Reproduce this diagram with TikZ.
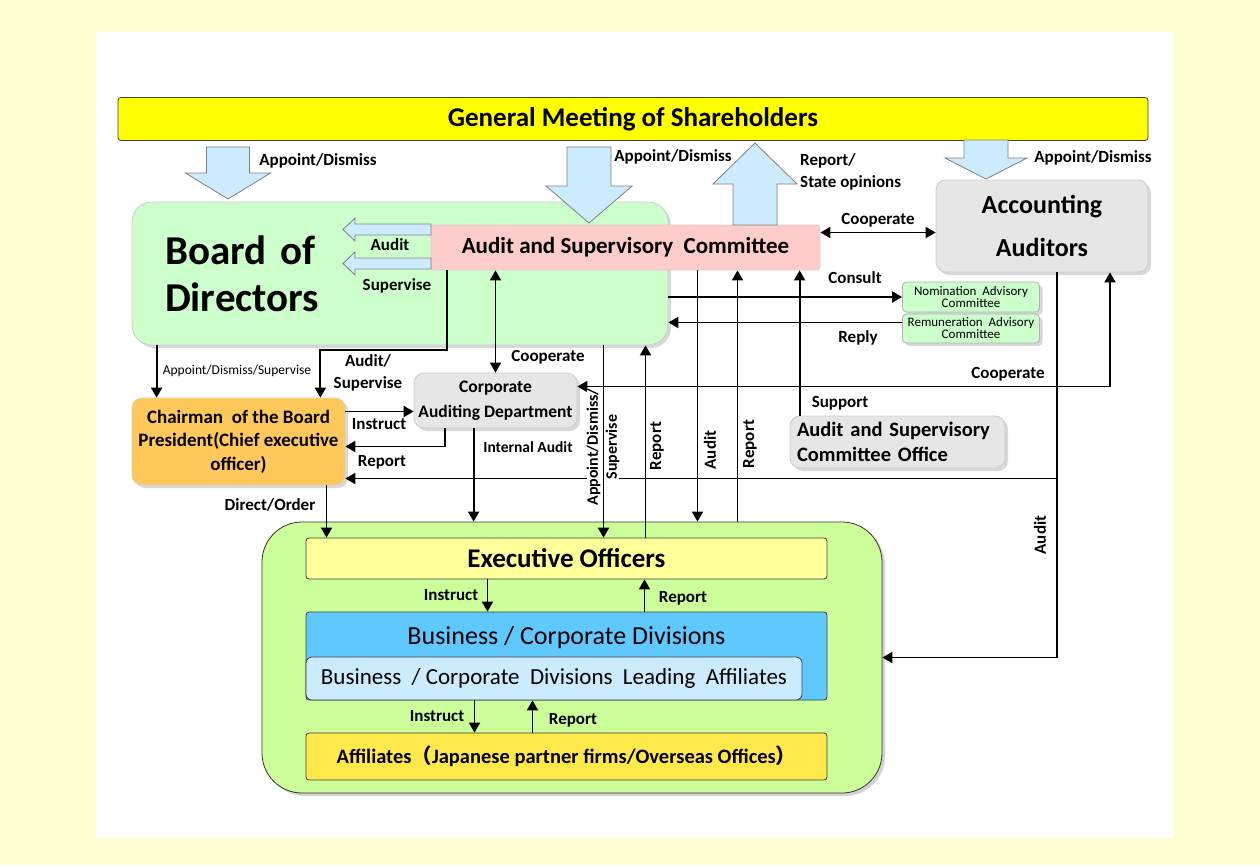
\documentclass[tikz,border=0pt]{standalone}
\usepackage{fontspec}
\setmainfont{Carlito}
\newfontfamily\cjk{Noto Sans CJK JP}
\usepackage{tikz}
\usepackage{xcolor}
\usetikzlibrary{arrows.meta,shadows}
\definecolor{pageyellow}{HTML}{FFFDD2}
\definecolor{gmsyellow}{HTML}{FFFF00}
\definecolor{arrowblue}{HTML}{CCEBFF}
\definecolor{boardgreen}{HTML}{CCFFCC}
\definecolor{auditpink}{HTML}{FFCCCC}
\definecolor{softgray}{HTML}{E6E6E6}
\definecolor{chairorange}{HTML}{FFC85A}
\definecolor{groupgreen}{HTML}{CCFF99}
\definecolor{officeryellow}{HTML}{FFFF99}
\definecolor{divblue}{HTML}{5FC8FF}
\definecolor{leadblue}{HTML}{CCEBFF}
\definecolor{affyellow}{HTML}{FFE94A}
\tikzset{
box/.style={
  draw=black!75,
  line width=0.8pt,
  rounded corners=3pt,
  inner sep=0pt,
  align=center,
  font=\bfseries
},
softbox/.style={
  box,
  draw=black!20,
  rounded corners=10pt,
  drop shadow={opacity=0.3,shadow xshift=3pt,shadow yshift=-3pt}
},
lbl/.style={inner sep=1pt,align=center,font=\bfseries\fontsize{17}{22}\selectfont},
vlbl/.style={lbl,rotate=90},
blockarrow/.style={draw=black!50,line width=0.8pt,fill=arrowblue},
conn/.style={line width=1.9pt,>={Triangle[length=10pt,width=11pt]}},
}
% x, start y, tip y, shaft half, head half, head length (signed)
\newcommand{\blockarrow}[6]{%
  \draw[blockarrow] ({#1-#4},#2) -- ({#1-#4},{#3-(#6)}) -- ({#1-#5},{#3-(#6)})
    -- (#1,#3) -- ({#1+#5},{#3-(#6)}) -- ({#1+#4},{#3-(#6)}) -- ({#1+#4},#2) -- cycle;}
% y, start x, tip x
\newcommand{\sidearrow}[3]{%
  \draw[blockarrow] (#2,{#1-5.5}) -- (355,{#1-5.5}) -- (355,{#1-11.5}) -- (#3,#1)
    -- (355,{#1+11.5}) -- (355,{#1+5.5}) -- (#2,{#1+5.5}) -- cycle;}

\begin{document}
\begin{tikzpicture}[x=1pt,y=-1pt]
% the page
\fill[pageyellow] (0,0) rectangle (1260,865);
\fill[white] (96,32) rectangle (1173,838);
\useasboundingbox (0,0) rectangle (1260,865);

% the boxes
\node (gms) [box,fill=gmsyellow,minimum width=1030pt,minimum height=43pt,
  font=\bfseries\fontsize{27}{30}\selectfont] at (633,119) {General Meeting of Shareholders};
\node (bod) [softbox,fill=boardgreen,rounded corners=20pt,minimum width=536pt,minimum height=143pt,
  text width=470pt,align=left,font=\bfseries\fontsize{41}{47}\selectfont] at (400,273.5) {Board of\\Directors};
\node (asc) [box,draw=auditpink!80!black!60,fill=auditpink,minimum width=389pt,minimum height=45pt,
  font=\bfseries\fontsize{23}{26}\selectfont] at (625.5,247.5) {Audit and Supervisory\ \ Committee};
\node (aa) [softbox,fill=softgray,minimum width=212pt,minimum height=92pt,
  font=\bfseries\fontsize{26}{43}\selectfont] at (1042,226) {Accounting\\Auditors};
\node (nom) [softbox,draw=black!30,fill=boardgreen,rounded corners=4pt,minimum width=137pt,minimum height=30pt,
  font=\fontsize{13}{12}\selectfont] at (971,297) {Nomination\ \ Advisory\\Committee};
\node (rem) [softbox,draw=black!30,fill=boardgreen,rounded corners=4pt,minimum width=137pt,minimum height=29pt,
  font=\fontsize{13}{12}\selectfont] at (971,328.5) {Remuneration\ \ Advisory\\Committee};
\node (chair) [softbox,draw=chairorange!70!black!40,fill=chairorange,minimum width=213pt,minimum height=87pt,
  font=\bfseries\fontsize{19}{23.5}\selectfont] at (238.5,441.5) {Chairman\ \ of the Board\\President(Chief executive\\officer)};
\node (cad) [softbox,fill=softgray,minimum width=163pt,minimum height=55pt,
  font=\bfseries\fontsize{17.5}{25}\selectfont] at (495.5,400.5) {Corporate\\Auditing Department};
\node (asco) [softbox,fill=softgray,minimum width=215pt,minimum height=52pt,text width=201pt,align=left,
  font=\bfseries\fontsize{20.5}{25}\selectfont] at (897.5,442) {Audit and Supervisory\\Committee Office};
\node (grp) [box,draw=black!80,fill=groupgreen,rounded corners=40pt,minimum width=620pt,minimum height=271pt,
  drop shadow={opacity=0.35,shadow xshift=3pt,shadow yshift=-3pt}] at (572,657.5) {};
\node (eo) [box,fill=officeryellow,minimum width=521pt,minimum height=41pt,
  font=\bfseries\fontsize{27}{30}\selectfont] at (566.5,558.5) {Executive Officers};
\node (bcd) [box,fill=divblue,minimum width=521pt,text height=32pt,text depth=56pt,
  font=\fontsize{26}{30}\selectfont] at (566.5,656) {Business / Corporate Divisions};
\node (bcdla) [box,fill=leadblue,rounded corners=6pt,minimum width=496pt,minimum height=43pt,
  font=\fontsize{23}{26}\selectfont] at (554,678.5) {Business\ \ /\ Corporate\ \ Divisions\ \ Leading\ \ Affiliates};
\node (aff) [box,fill=affyellow,minimum width=521pt,minimum height=47pt,
  font=\bfseries\fontsize{20.5}{24}\selectfont] at (566.5,756.5) {Affiliates{\cjk （}Japanese partner firms/Overseas Offices{\cjk ）}};

% the block arrows
\blockarrow{228}{147}{199}{21.5}{42.5}{26}
\blockarrow{589}{147}{223}{22}{43}{37}
\blockarrow{755}{225}{143}{22}{42}{-41}
\blockarrow{986}{140}{179}{22}{41}{21}
\sidearrow{229.5}{431}{343}
\sidearrow{263.5}{431}{343}

% the arrows
\begin{scope}[conn]
\draw[<->] ([yshift=15pt]asc.east) -- ([yshift=15pt]asc.east -| aa.west);
\draw[->]  (bod.east |- nom.west) -- (nom.west);
\draw[->]  ([yshift=6pt]rem.west) -- ([yshift=6pt]bod.east |- rem.west);
\draw[->]  ([xshift=25pt]chair.north west |- bod.south) -- ([xshift=25pt]chair.north west);
\draw[->]  ([xshift=16pt]asc.south west) -- ++(0,80) -| ([xshift=-25pt]chair.north east);
\draw[<->] (asc.south -| cad.north) -- (cad.north);
\draw[->]  ([yshift=30pt]chair.east) -- ([yshift=30pt]chair.east -| cad.west);
\draw[->]  ([xshift=31pt]cad.south west) |- ([yshift=-5pt]chair.east);
\draw[->]  ([xshift=60pt]cad.south west) -- ([xshift=60pt]cad.south west |- grp.north);
\draw[<->] ([xshift=68pt]aa.south) |- ([yshift=14pt]cad.east);
\draw[->]  ([xshift=15pt]aa.south) |- (grp.east);
\draw[->]  ([xshift=15pt]aa.south |- chair.east) ++(0,37) -- ([yshift=-37pt]chair.east);
\node (lappsup) [vlbl,fill=white,inner sep=0pt,font=\bfseries\fontsize{16}{19}\selectfont] at (603,447) {Appoint/Dismiss/\\Supervise};
\draw[->]  ([xshift=37pt]eo.north |- bod.south) -- ([xshift=37pt]eo.north);
\draw[->]  ([xshift=79pt]eo.north) -- ([xshift=79pt]eo.north |- bod.south);
\draw[->]  ([xshift=72pt]asc.south) -- ([xshift=72pt]asc.south |- grp.north);
\draw[->]  ([xshift=112pt]asc.south |- grp.north) -- ([xshift=112pt]asc.south);
\draw[->]  ([xshift=10pt]asco.north west) -- ([xshift=10pt]asco.north west |- asc.south);
\draw[->]  ([xshift=88pt]chair.south) -- ([xshift=88pt]chair.south |- eo.north);
\draw[->]  ([xshift=-79pt]eo.south) -- ([xshift=-79pt]eo.south |- bcd.north);
\draw[->]  ([xshift=78pt]eo.south |- bcd.north) -- ([xshift=78pt]eo.south);
\draw[->]  ([xshift=-92pt]bcd.south) -- ([xshift=-92pt]bcd.south |- aff.north);
\draw[->]  ([xshift=-34pt]bcd.south |- aff.north) -- ([xshift=-34pt]bcd.south);
\end{scope}

% the labels
\node (lapp1) [lbl] at (318,161) {Appoint/Dismiss};
\node (lapp2) [lbl] at (673,157) {Appoint/Dismiss};
\node (lapp3) [lbl] at (1093,158) {Appoint/Dismiss};
\node (lrep1) [lbl,anchor=west,align=left] at (799,172) {Report/\\State opinions};
\node (laud1) [lbl] at (390,245) {Audit};
\node (lsup1) [lbl] at (397,286) {Supervise};
\node (lcoop1) [lbl] at (878,220) {Cooperate};
\node (lcons) [lbl] at (855,278) {Consult};
\node (lrepl) [lbl] at (858,338) {Reply};
\node (lads) [lbl,font=\fontsize{13.5}{16}\selectfont] at (237,371) {Appoint/Dismiss/Supervise};
\node (lausu) [lbl] at (368,373) {Audit/\\Supervise};
\node (lcoop2) [lbl] at (548,357) {Cooperate};
\node (linst1) [lbl] at (379,424) {Instruct};
\node (lrep2) [lbl] at (382,462) {Report};
\node (lint) [lbl,font=\bfseries\fontsize{15.5}{18}\selectfont] at (528,447) {Internal Audit};
\node (lcoop3) [lbl] at (1008,374) {Cooperate};
\node (lsupp) [lbl] at (840,403) {Support};
\node (ldir) [lbl] at (270,505) {Direct/Order};
\node (lrep3) [vlbl] at (657,446) {Report};
\node (laud2) [vlbl] at (710,450) {Audit};
\node (lrep4) [vlbl] at (750,444) {Report};
\node (laud3) [vlbl] at (1040,535) {Audit};
\node (linst2) [lbl] at (451,595) {Instruct};
\node (lrep5) [lbl] at (683,598) {Report};
\node (linst3) [lbl] at (437,716) {Instruct};
\node (lrep6) [lbl] at (573,720) {Report};
\end{tikzpicture}
\end{document}
